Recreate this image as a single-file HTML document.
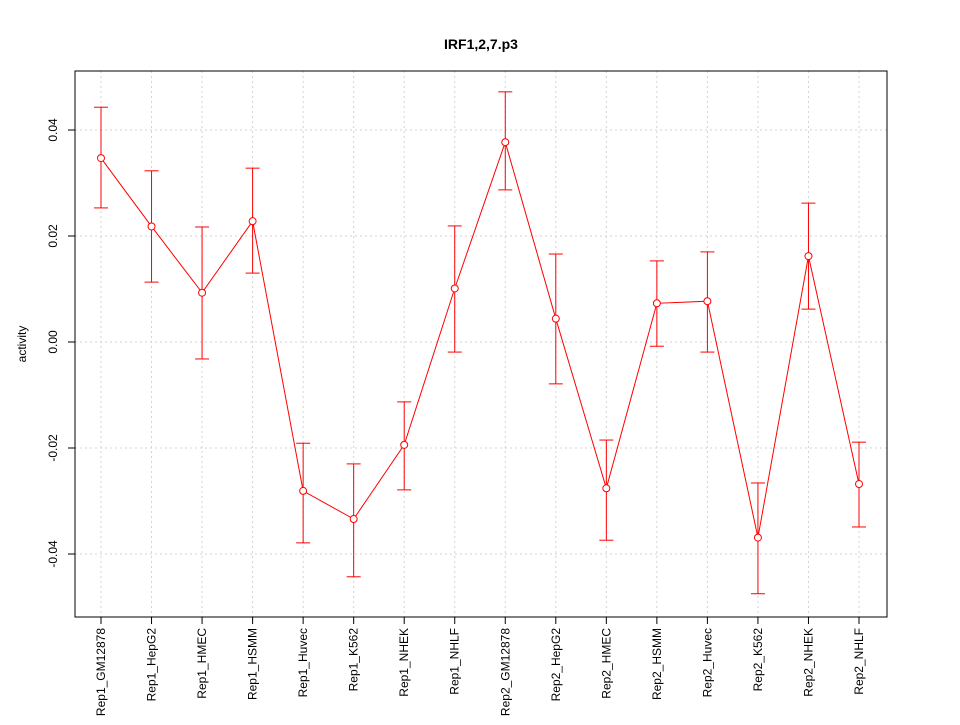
<!DOCTYPE html>
<html><head><meta charset="utf-8"><style>
html,body{margin:0;padding:0;background:#fff;}
text{font-family:"Liberation Sans",sans-serif;font-size:12px;fill:#000;}
</style></head><body>
<svg id="chart" width="960" height="720" xmlns="http://www.w3.org/2000/svg">
<text x="481" y="49" text-anchor="middle" style="font-weight:bold;font-size:14px">IRF1,2,7.p3</text>
<text transform="translate(26,344) rotate(-90)" text-anchor="middle">activity</text>
<g id="grid"></g>
<g id="axes"></g>
<g id="marks"></g>
<rect x="75" y="71" width="812" height="546" fill="none" stroke="#000"/>
</svg>
<script>
const categories=["Rep1_GM12878","Rep1_HepG2","Rep1_HMEC","Rep1_HSMM","Rep1_Huvec","Rep1_K562","Rep1_NHEK","Rep1_NHLF","Rep2_GM12878","Rep2_HepG2","Rep2_HMEC","Rep2_HSMM","Rep2_Huvec","Rep2_K562","Rep2_NHEK","Rep2_NHLF"];
const values=[0.0347,0.0218,0.0093,0.0228,-0.0281,-0.0334,-0.0194,0.0101,0.0377,0.0044,-0.0276,0.0073,0.0077,-0.0369,0.0162,-0.0268];
const upper=[0.0443,0.0323,0.0217,0.0328,-0.0191,-0.023,-0.0113,0.0219,0.0472,0.0166,-0.0185,0.0153,0.0170,-0.0266,0.0262,-0.0189];
const lower=[0.0253,0.0113,-0.0032,0.013,-0.0379,-0.0443,-0.0279,-0.0019,0.0287,-0.0079,-0.0374,-0.0008,-0.0019,-0.0475,0.0062,-0.0349];
const yTicks=[-0.04,-0.02,0,0.02,0.04];
const yTickLabels=["-0.04","-0.02","0.00","0.02","0.04"];
const NS="http://www.w3.org/2000/svg";
function xs(i){return 101+i*(859-101)/(categories.length-1);}
function ys(v){return 342-v*5300;}
function mk(tag,attrs,parent,txt){const e=document.createElementNS(NS,tag);for(const k in attrs)e.setAttribute(k,attrs[k]);if(txt!==undefined)e.textContent=txt;document.getElementById(parent).appendChild(e);return e;}
yTicks.forEach((t,i)=>{
  let g=mk('line',{x1:75,x2:887,y1:ys(t),y2:ys(t),stroke:'#d3d3d3','stroke-dasharray':'2,3'},'grid');
  
  
  let tk=mk('line',{x1:68,x2:75,y1:ys(t),y2:ys(t),stroke:'#000'},'axes');
  
  
  let lb=mk('text',{transform:`translate(57,${ys(t)}) rotate(-90)`,'text-anchor':'middle'},'axes',yTickLabels[i]);
  
  
});
categories.forEach((c,i)=>{
  const x=xs(i);
  let g=mk('line',{x1:x,x2:x,y1:71,y2:617,stroke:'#d3d3d3','stroke-dasharray':'2,3'},'grid');
  
  
  let tk=mk('line',{x1:x,x2:x,y1:617,y2:624,stroke:'#000'},'axes');
  
  
  let lb=mk('text',{transform:`translate(${x+4},628) rotate(-90)`,'text-anchor':'end'},'axes',c);
  
  
});
const pts=values.map((v,i)=>xs(i)+','+ys(v)).join(' ');
let pl=mk('polyline',{points:pts,fill:'none',stroke:'#ff0000'},'marks');


values.forEach((v,i)=>{
  const x=xs(i);
  let e=mk('line',{x1:x,x2:x,y1:ys(upper[i]),y2:ys(lower[i]),stroke:'#ff0000'},'marks');
  
  
  [upper[i],lower[i]].forEach(b=>{
    let cp=mk('line',{x1:x-7,x2:x+7,y1:ys(b),y2:ys(b),stroke:'#ff0000'},'marks');
    
    
  });
  let p=mk('circle',{cx:x,cy:ys(v),r:3.5,fill:'#fff',stroke:'#ff0000'},'marks');
  
  
});
</script>
</body></html>
